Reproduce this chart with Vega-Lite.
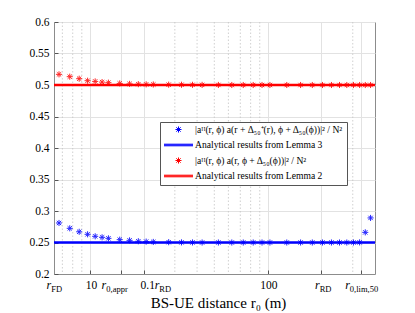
{
  "$schema": "https://vega.github.io/schema/vega-lite/v6.json",
  "width": 321,
  "height": 252,
  "autosize": {"type": "none"},
  "padding": {"left": 54, "top": 22, "right": 40, "bottom": 39},
  "background": "white",
  "config": {"view": {"stroke": "#8c8c8c", "strokeWidth": 1}, "font": "Liberation Serif"},
  "datasets": {
    "minor": [{"r": 7}, {"r": 8}, {"r": 9}, {"r": 30}, {"r": 40}, {"r": 50}, {"r": 60}, {"r": 70}, {"r": 80}, {"r": 90}, {"r": 300}],
    "lines": [
      {"r": 6.28, "g": 0.25, "s": "lem3"}, {"r": 400, "g": 0.25, "s": "lem3"},
      {"r": 6.28, "g": 0.5, "s": "lem2"}, {"r": 400, "g": 0.5, "s": "lem2"}
    ],
    "pts": [
      {"r": 6.7, "g": 0.281, "s": "sim3"}, {"r": 7.7, "g": 0.2725, "s": "sim3"}, {"r": 8.7, "g": 0.267, "s": "sim3"},
      {"r": 9.7, "g": 0.263, "s": "sim3"}, {"r": 10.7, "g": 0.2598, "s": "sim3"}, {"r": 11.7, "g": 0.2582, "s": "sim3"},
      {"r": 12.7, "g": 0.2566, "s": "sim3"}, {"r": 14.7, "g": 0.2545, "s": "sim3"}, {"r": 16.7, "g": 0.2534, "s": "sim3"},
      {"r": 18.7, "g": 0.252, "s": "sim3"}, {"r": 20.7, "g": 0.2514, "s": "sim3"}, {"r": 22.7, "g": 0.2509, "s": "sim3"},
      {"r": 27.7, "g": 0.2505, "s": "sim3"}, {"r": 32.7, "g": 0.2502, "s": "sim3"}, {"r": 37.7, "g": 0.2501, "s": "sim3"},
      {"r": 42.7, "g": 0.25, "s": "sim3"}, {"r": 52.7, "g": 0.25, "s": "sim3"}, {"r": 62.7, "g": 0.25, "s": "sim3"},
      {"r": 72.7, "g": 0.25, "s": "sim3"}, {"r": 82.7, "g": 0.25, "s": "sim3"}, {"r": 92.7, "g": 0.25, "s": "sim3"},
      {"r": 102.7, "g": 0.25, "s": "sim3"}, {"r": 127.7, "g": 0.25, "s": "sim3"}, {"r": 152.7, "g": 0.25, "s": "sim3"},
      {"r": 177.7, "g": 0.25, "s": "sim3"}, {"r": 202.7, "g": 0.25, "s": "sim3"}, {"r": 227.7, "g": 0.25, "s": "sim3"},
      {"r": 252.7, "g": 0.25, "s": "sim3"}, {"r": 277.7, "g": 0.25, "s": "sim3"}, {"r": 302.7, "g": 0.25, "s": "sim3"},
      {"r": 327.7, "g": 0.2502, "s": "sim3"}, {"r": 352.7, "g": 0.2661, "s": "sim3"}, {"r": 377.7, "g": 0.289, "s": "sim3"},
      {"r": 6.7, "g": 0.5169, "s": "sim2"}, {"r": 7.7, "g": 0.5132, "s": "sim2"}, {"r": 8.7, "g": 0.51, "s": "sim2"},
      {"r": 9.7, "g": 0.5068, "s": "sim2"}, {"r": 10.7, "g": 0.5057, "s": "sim2"}, {"r": 11.7, "g": 0.5046, "s": "sim2"},
      {"r": 12.7, "g": 0.5037, "s": "sim2"}, {"r": 14.7, "g": 0.5025, "s": "sim2"}, {"r": 16.7, "g": 0.5018, "s": "sim2"},
      {"r": 18.7, "g": 0.5013, "s": "sim2"}, {"r": 20.7, "g": 0.501, "s": "sim2"}, {"r": 22.7, "g": 0.5008, "s": "sim2"},
      {"r": 27.7, "g": 0.5005, "s": "sim2"}, {"r": 32.7, "g": 0.5004, "s": "sim2"}, {"r": 37.7, "g": 0.5003, "s": "sim2"},
      {"r": 42.7, "g": 0.5002, "s": "sim2"}, {"r": 52.7, "g": 0.5001, "s": "sim2"}, {"r": 62.7, "g": 0.5, "s": "sim2"},
      {"r": 72.7, "g": 0.5, "s": "sim2"}, {"r": 82.7, "g": 0.5, "s": "sim2"}, {"r": 92.7, "g": 0.5, "s": "sim2"},
      {"r": 102.7, "g": 0.5, "s": "sim2"}, {"r": 127.7, "g": 0.5, "s": "sim2"}, {"r": 152.7, "g": 0.5, "s": "sim2"},
      {"r": 177.7, "g": 0.5, "s": "sim2"}, {"r": 202.7, "g": 0.5, "s": "sim2"}, {"r": 227.7, "g": 0.5, "s": "sim2"},
      {"r": 252.7, "g": 0.5, "s": "sim2"}, {"r": 277.7, "g": 0.5, "s": "sim2"}, {"r": 302.7, "g": 0.5, "s": "sim2"},
      {"r": 327.7, "g": 0.5, "s": "sim2"}, {"r": 352.7, "g": 0.5, "s": "sim2"}, {"r": 377.7, "g": 0.5, "s": "sim2"}
    ]
  },
  "resolve": {"axis": {"x": "independent"}},
  "layer": [
    {
      "data": {"name": "minor"},
      "mark": {"type": "rule", "color": "#c4c4c4", "strokeDash": [1.5, 2], "strokeWidth": 0.8},
      "encoding": {
        "x": {
          "field": "r", "type": "quantitative",
          "scale": {"type": "log", "domain": [6.28, 400], "nice": false},
          "axis": {
            "orient": "bottom", "values": [6.28, 14.9, 20, 200, 333], "labelExpr": "'r'",
            "labelFont": "Liberation Serif", "labelFontStyle": "italic", "labelFontSize": 12, "labelColor": "#000",
            "labelAlign": "right", "labelFlush": false, "labelOverlap": false, "labelPadding": 9.5,
            "labelOffset": {"condition": [
              {"test": "datum.value < 7", "value": -3.3},
              {"test": "datum.value < 16", "value": -15},
              {"test": "datum.value < 30", "value": 15.3},
              {"test": "datum.value < 250", "value": -2.3}
            ], "value": -11.5},
            "ticks": true, "tickSize": -4, "tickOpacity": 0, "domain": false, "grid": false, "title": null
          }
        }
      }
    },
    {
      "data": {"name": "lines"},
      "mark": {"type": "line", "strokeWidth": 2.6},
      "encoding": {
        "x": {
          "field": "r", "type": "quantitative",
          "scale": {"type": "log", "domain": [6.28, 400], "nice": false},
          "axis": {
            "orient": "bottom", "values": [6.28, 10, 14.9, 20, 100, 200, 333],
            "labelExpr": "datum.value > 9 && datum.value < 11 ? '10' : datum.value > 19 && datum.value < 21 ? '0.1' : datum.value > 99 && datum.value < 101 ? '100' : ''",
            "labelFont": "Liberation Serif", "labelFontSize": 11.5, "labelColor": "#000",
            "labelAlign": "right", "labelFlush": false, "labelOverlap": false, "labelPadding": 9.5,
            "labelOffset": {"condition": [
              {"test": "datum.value < 11", "value": 6.7},
              {"test": "datum.value < 30", "value": 10.9}
            ], "value": 9},
            "ticks": true, "tickSize": -4, "tickColor": "#555", "domain": true, "domainColor": "#8c8c8c",
            "grid": true, "gridColor": "#e2e2e2", "gridWidth": 1,
            "title": "BS-UE distance r₀ (m)", "titleFont": "Liberation Serif", "titleFontSize": 15,
            "titleFontWeight": "normal", "titleColor": "#000", "titlePadding": 4, "titleX": 164
          }
        },
        "y": {
          "field": "g", "type": "quantitative",
          "scale": {"domain": [0.2, 0.6], "nice": false, "zero": false},
          "axis": {
            "values": [0.2, 0.25, 0.3, 0.35, 0.4, 0.45, 0.5, 0.55, 0.6], "format": ".2~f", "title": null,
            "labelFont": "Liberation Serif", "labelFontSize": 11.5, "labelColor": "#000", "labelPadding": 9,
            "tickSize": -4, "tickColor": "#555", "domainColor": "#8c8c8c",
            "grid": true, "gridColor": "#e2e2e2"
          }
        },
        "color": {
          "field": "s", "type": "nominal",
          "scale": {"domain": ["sim3", "lem3", "sim2", "lem2"], "range": ["#0000ff", "#0000ff", "#ff0000", "#ff0000"]}
        }
      }
    },
    {
      "data": {"name": "pts"},
      "mark": {"type": "point", "filled": false, "size": 841, "strokeWidth": 1, "opacity": 0.85},
      "encoding": {
        "x": {
          "field": "r", "type": "quantitative",
          "scale": {"type": "log", "domain": [6.28, 400], "nice": false},
          "axis": {
            "orient": "bottom", "values": [6.28, 14.9, 20, 200, 333],
            "labelExpr": "datum.value < 7 ? 'FD' : datum.value < 16 ? '0,appr' : datum.value < 250 ? 'RD' : '0,lim,50'",
            "labelFont": "Liberation Serif", "labelFontSize": 8.5, "labelColor": "#000",
            "labelAlign": "left", "labelFlush": false, "labelOverlap": false, "labelPadding": 14.8,
            "labelOffset": {"condition": [
              {"test": "datum.value < 7", "value": -3.3},
              {"test": "datum.value < 16", "value": -15},
              {"test": "datum.value < 30", "value": 15.3},
              {"test": "datum.value < 250", "value": -2.3}
            ], "value": -11.5},
            "ticks": true, "tickSize": -4, "tickOpacity": 0, "domain": false, "grid": false, "title": null
          }
        },
        "y": {
          "field": "g", "type": "quantitative",
          "scale": {"domain": [0.2, 0.6], "nice": false, "zero": false},
          "axis": {
            "values": [0.2, 0.25, 0.3, 0.35, 0.4, 0.45, 0.5, 0.55, 0.6], "format": ".2~f", "title": null,
            "labelFont": "Liberation Serif", "labelFontSize": 11.5, "labelColor": "#000", "labelPadding": 9,
            "tickSize": -4, "tickColor": "#555", "domainColor": "#8c8c8c",
            "grid": true, "gridColor": "#e2e2e2"
          }
        },
        "color": {
          "field": "s", "type": "nominal",
          "scale": {"domain": ["sim3", "lem3", "sim2", "lem2"], "range": ["#0000ff", "#0000ff", "#ff0000", "#ff0000"]},
          "legend": {
            "title": null, "orient": "none", "legendX": 106, "legendY": 100,
            "symbolSize": 841, "symbolStrokeWidth": 1, "symbolOpacity": 1, "clipHeight": 8, "rowPadding": 5.5, "padding": 3.5,
            "labelOffset": 1.5, "labelFont": "Liberation Serif", "labelFontSize": 9.6, "labelColor": "#000", "labelLimit": 400,
            "fillColor": "white", "strokeColor": "#555",
            "labelExpr": "datum.value == 'sim3' ? '|aᴴ(r, ϕ) a(r + Δ₅₀⁺(r), ϕ + Δ₅₀(ϕ))|² / N²' : datum.value == 'lem3' ? 'Analytical results from Lemma 3' : datum.value == 'sim2' ? '|aᴴ(r, ϕ) a(r, ϕ + Δ₅₀(ϕ))|² / N²' : 'Analytical results from Lemma 2'"
          }
        },
        "shape": {
          "field": "s", "type": "nominal",
          "scale": {"domain": ["sim3", "lem3", "sim2", "lem2"], "range": [
            "M-0.21,0L0.21,0M0,-0.21L0,0.21M-0.15,-0.15L0.15,0.15M-0.15,0.15L0.15,-0.15",
            "M-1,-0.055L1,-0.055M-1,0L1,0M-1,0.055L1,0.055",
            "M-0.21,0L0.21,0M0,-0.21L0,0.21M-0.15,-0.15L0.15,0.15M-0.15,0.15L0.15,-0.15",
            "M-1,-0.055L1,-0.055M-1,0L1,0M-1,0.055L1,0.055"
          ]},
          "legend": {
            "title": null, "orient": "none", "legendX": 106, "legendY": 100,
            "symbolSize": 841, "symbolStrokeWidth": 1, "symbolOpacity": 1, "clipHeight": 8, "rowPadding": 5.5, "padding": 3.5,
            "labelOffset": 1.5, "labelFont": "Liberation Serif", "labelFontSize": 9.6, "labelColor": "#000", "labelLimit": 400,
            "fillColor": "white", "strokeColor": "#555",
            "labelExpr": "datum.value == 'sim3' ? '|aᴴ(r, ϕ) a(r + Δ₅₀⁺(r), ϕ + Δ₅₀(ϕ))|² / N²' : datum.value == 'lem3' ? 'Analytical results from Lemma 3' : datum.value == 'sim2' ? '|aᴴ(r, ϕ) a(r, ϕ + Δ₅₀(ϕ))|² / N²' : 'Analytical results from Lemma 2'"
          }
        }
      }
    }
  ]
}
